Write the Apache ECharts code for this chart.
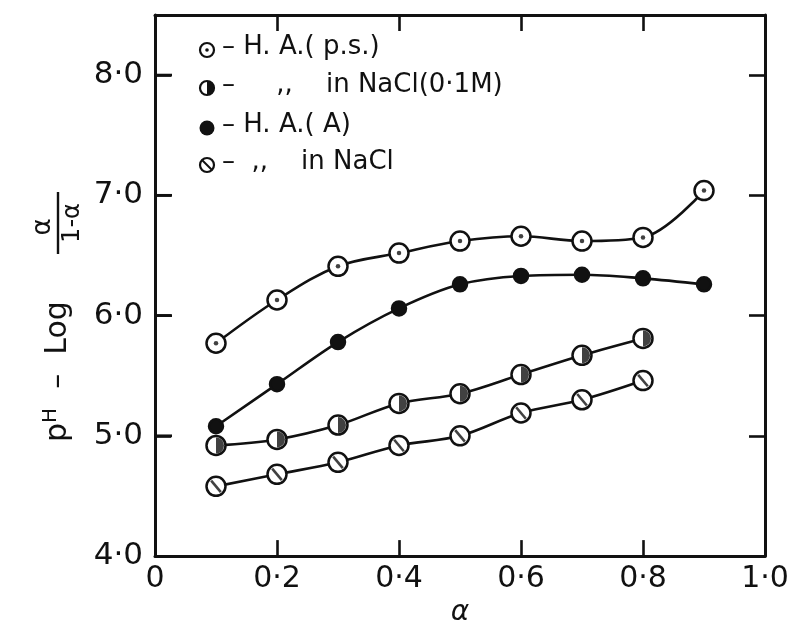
<!DOCTYPE html>
<html>
<head>
<meta charset="utf-8">
<script src="https://cdn.jsdelivr.net/npm/echarts@6/dist/echarts.min.js"></script>
<style>
  html, body { margin: 0; padding: 0; background: #fff; }
  #chart { width: 793px; height: 632px; }
</style>
</head>
<body>
<div id="chart"></div>
<script>
// degree of ionisation (alpha)
const alphaA = [0.1, 0.2, 0.3, 0.4, 0.5, 0.6, 0.7, 0.8, 0.9]
const alphaB = [0.1, 0.2, 0.3, 0.4, 0.5, 0.6, 0.7, 0.8]

// pH - log(a/(1-a))
const haPs     = [5.77, 6.13, 6.41, 6.52, 6.62, 6.66, 6.62, 6.65, 7.04]
const haPsNaCl = [4.92, 4.97, 5.09, 5.27, 5.35, 5.51, 5.67, 5.81]
const haA      = [5.08, 5.43, 5.78, 6.06, 6.26, 6.33, 6.34, 6.31, 6.26]
const haANaCl  = [4.58, 4.68, 4.78, 4.92, 5.00, 5.19, 5.30, 5.46]

const xTicks = [0, 0.2, 0.4, 0.6, 0.8, 1.0]
const yTicks = [4, 5, 6, 7, 8]

const FONT = 'DejaVu Sans'
const INK = '#111'

const pairs = (xs, ys) => ys.map((y, i) => [xs[i], y])
const dotFmt = v => (v === 0 ? '0' : v.toFixed(1).replace('.', '·'))

const curve = (name, data, fill, size) => ({
  name: name,
  type: 'line',
  data: data,
  smooth: 0.35,
  symbol: 'circle',
  symbolSize: size,
  lineStyle: { color: INK, width: 2.6 },
  itemStyle: { color: fill, borderColor: INK, borderWidth: 2.5 },
  z: 3
})

const mark = (data, symbol, size, extra) => Object.assign({
  type: 'scatter',
  data: data,
  symbol: symbol,
  symbolSize: size,
  itemStyle: { color: INK },
  silent: true,
  z: 5
}, extra || {})

const frame = (ticks) => ({
  axisLine: { show: true, onZero: false, lineStyle: { color: INK, width: 3 } },
  axisTick: Object.assign(
    { show: true, inside: true, length: 16, lineStyle: { color: INK, width: 2.6 } },
    ticks ? { customValues: ticks } : {}
  ),
  splitLine: { show: false }
})

// ticks only, no text, for the top and right sides of the frame
const blankLabels = (ticks) => ({ show: true, customValues: ticks, formatter: () => '' })

const legendAndTitle = [
  // legend block
  { type: 'circle', shape: { cx: 207, cy: 50, r: 7 }, style: { fill: '#fff', stroke: INK, lineWidth: 2.2 } },
  { type: 'circle', shape: { cx: 207, cy: 50, r: 1.8 }, style: { fill: INK } },
  { type: 'circle', shape: { cx: 207, cy: 88, r: 7 }, style: { fill: '#fff', stroke: INK, lineWidth: 2.2 } },
  { type: 'sector', shape: { cx: 207, cy: 88, r: 7, startAngle: -Math.PI / 2, endAngle: Math.PI / 2 }, style: { fill: INK } },
  { type: 'circle', shape: { cx: 207, cy: 128, r: 7.5 }, style: { fill: INK } },
  { type: 'circle', shape: { cx: 207, cy: 165, r: 7 }, style: { fill: '#fff', stroke: INK, lineWidth: 2.2 } },
  { type: 'line', shape: { x1: 202, y1: 160, x2: 212, y2: 170 }, style: { stroke: INK, lineWidth: 2 } },
  { type: 'text', left: 222, top: 34, style: { text: '– H. A.( p.s.)', font: '26px "' + FONT + '"', fill: INK } },
  { type: 'text', left: 222, top: 72, style: { text: '–     ,,    in NaCl(0·1M)', font: '26px "' + FONT + '"', fill: INK } },
  { type: 'text', left: 222, top: 112, style: { text: '– H. A.( A)', font: '26px "' + FONT + '"', fill: INK } },
  { type: 'text', left: 222, top: 149, style: { text: '–  ,,    in NaCl', font: '26px "' + FONT + '"', fill: INK } },

  // y axis title: pH - Log a/(1-a), reading bottom to top
  {
    type: 'group', x: 58, y: 442, rotation: Math.PI / 2,
    children: [
      {
        type: 'text', x: 0, y: 0,
        style: {
          text: '{p|p}{h|H}{t|  –  Log}',
          verticalAlign: 'middle',
          rich: {
            p: { fontFamily: FONT, fontSize: 30, fill: INK },
            h: { fontFamily: FONT, fontSize: 20, fill: INK, verticalAlign: 'top', padding: [0, 0, 14, 0] },
            t: { fontFamily: FONT, fontSize: 30, fill: INK }
          }
        }
      },
      { type: 'text', x: 215, y: -15, style: { text: 'α', font: '26px "' + FONT + '"', fill: INK, align: 'center', verticalAlign: 'middle' } },
      { type: 'line', shape: { x1: 188, y1: 0, x2: 250, y2: 0 }, style: { stroke: INK, lineWidth: 2.4 } },
      { type: 'text', x: 219, y: 15, style: { text: '1-α', font: '24px "' + FONT + '"', fill: INK, align: 'center', verticalAlign: 'middle' } }
    ]
  }
]

const option = {
  backgroundColor: '#fff',
  animation: false,
  grid: { left: 155, right: 28, top: 15, bottom: 61 },
  xAxis: [
    Object.assign({
      type: 'value', min: 0, max: 1, interval: 0.2, position: 'bottom',
      axisLabel: { fontFamily: FONT, fontSize: 30, color: INK, margin: 8, customValues: xTicks, formatter: dotFmt },
      name: 'α', nameLocation: 'middle', nameGap: 41,
      nameTextStyle: { fontFamily: FONT, fontSize: 28, color: INK, fontStyle: 'italic' }
    }, frame(xTicks)),
    Object.assign({
      type: 'value', min: 0, max: 1, interval: 0.2, position: 'top',
      axisLabel: blankLabels(xTicks.slice(1, -1))
    }, frame(xTicks.slice(1, -1)))
  ],
  yAxis: [
    Object.assign({
      type: 'value', min: 4, max: 8.5, interval: 1, position: 'left',
      axisLabel: {
        fontFamily: FONT, fontSize: 31, color: INK, margin: 12, showMaxLabel: false,
        formatter: v => (yTicks.indexOf(v) >= 0 ? v.toFixed(1).replace('.', '·') : '')
      }
    }, frame(null)),
    Object.assign({
      type: 'value', min: 4, max: 8.5, interval: 1, position: 'right',
      axisLabel: blankLabels(yTicks.slice(1))
    }, frame(yTicks.slice(1)))
  ],
  series: [
    curve('H.A.(p.s.)', pairs(alphaA, haPs), '#fff', 19),
    mark(pairs(alphaA, haPs), 'circle', 4.5),

    curve('H.A.(A)', pairs(alphaA, haA), INK, 14),

    curve('H.A.(p.s.) in NaCl(0.1M)', pairs(alphaB, haPsNaCl), '#fff', 19),
    // right half of the circle filled
    mark(pairs(alphaB, haPsNaCl), 'path://M0,-10 A10,10 0 0 1 0,10 Z', [8, 16], { symbolOffset: [4, 0] }),

    curve('H.A.(A) in NaCl', pairs(alphaB, haANaCl), '#fff', 19),
    // diagonal stroke through the circle
    mark(pairs(alphaB, haANaCl), 'rect', [2.6, 15], { symbolRotate: 40 })
  ],
  graphic: legendAndTitle
}

const chart = echarts.init(document.getElementById('chart'))
chart.setOption(option)

// inward ticks on the left side of the frame, placed through the y scale
const x0 = chart.convertToPixel({ xAxisIndex: 0 }, 0)
const leftTicks = yTicks.slice(1).map(v => {
  const y = chart.convertToPixel({ yAxisIndex: 0 }, v)
  return { type: 'line', z: 10, shape: { x1: x0, y1: y, x2: x0 + 17, y2: y }, style: { stroke: INK, lineWidth: 2.8 } }
})
chart.setOption({ graphic: legendAndTitle.concat(leftTicks) })
</script>
</body>
</html>
